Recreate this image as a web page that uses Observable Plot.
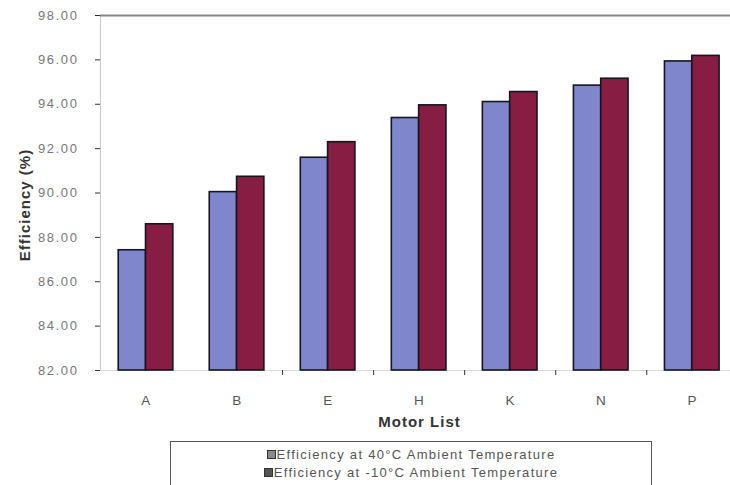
<!DOCTYPE html>
<html>
<head>
<meta charset="utf-8">
<script src="https://cdn.jsdelivr.net/npm/d3@7"></script>
<script src="https://cdn.jsdelivr.net/npm/@observablehq/plot@0.6"></script>
<style>
  body { margin: 0; background: #fff; font-family: "Liberation Sans", Arial, sans-serif; }
  #chart svg { display: block; }
  #chart g[aria-label="y-axis tick label"] { letter-spacing: 1.6px; }
  #chart g[aria-label="x-axis tick label"] { letter-spacing: 0.5px; }
  #chart .ttl { letter-spacing: 1px; }
  #legend {
    margin-left: 170px; margin-top: 9px; width: 482px; height: 60px;
    border: 1px solid #555; box-sizing: border-box; padding-top: 4px;
    color: #555; font-size: 13px; letter-spacing: 1.3px; text-align: center;
  }
  #legend .row { height: 18px; line-height: 18px; }
  #legend .sw { display: inline-block; width: 7px; height: 7px; margin-right: 1px; vertical-align: 0px; border: 1px solid #333; }
</style>
</head>
<body>
<div id="chart"></div>
<div id="legend"></div>
<script>
// Motor efficiency at two ambient temperatures
const motors = ["A", "B", "E", "H", "K", "N", "P"];
const eff40 = [87.42, 90.04, 91.59, 93.38, 94.10, 94.84, 95.93];
const effMinus10 = [88.59, 90.73, 92.29, 93.95, 94.55, 95.15, 96.18];
const seriesNames = ["Efficiency at 40°C Ambient Temperature", "Efficiency at -10°C Ambient Temperature"];
const seriesFill = ["#7f86cc", "#871d43"];
const legendSwatch = ["#8a8a8a", "#555555"];
const yTicks = [82, 84, 86, 88, 90, 92, 94, 96, 98];

// each motor index i holds two side-by-side bars: [i-0.3, i] and [i, i+0.3]
const rows = motors.flatMap((m, i) => [
  {i, series: 0, x1: i - 0.3, x2: i, value: eff40[i]},
  {i, series: 1, x1: i, x2: i + 0.3, value: effMinus10[i]}
]);
const groupEdges = [1.5, 2.5, 3.5, 4.5, 5.5];

const chart = Plot.plot({
  width: 730,
  height: 432,
  marginTop: 15,
  marginLeft: 100,
  marginRight: 0,
  marginBottom: 62,
  style: {fontFamily: "Liberation Sans, Arial, sans-serif", background: "#fff"},
  x: {domain: [-0.5, 6.42]},
  y: {domain: [82, 98]},
  marks: [
    Plot.ruleX([-0.5], {stroke: "#c8c8c8"}),
    Plot.ruleY([82], {stroke: "#dcdcdc"}),
    Plot.rect(rows, {
      x1: "x1", x2: "x2", y1: 82, y2: "value",
      fill: d => seriesFill[d.series],
      stroke: "#15151f", strokeWidth: 1.6
    }),
    Plot.ruleY([98], {stroke: "#858585", strokeWidth: 2.2}),
    Plot.axisY({
      ticks: yTicks, tickFormat: d => d.toFixed(2), tickSize: 5, tickPadding: 17,
      fontSize: 13, color: "#777", stroke: "#333", label: null
    }),
    Plot.axisX({
      ticks: d3.range(motors.length), tickFormat: i => motors[i], tickSize: 0,
      tickPadding: 25, fontSize: 13.5, color: "#555", label: null
    }),
    Plot.axisX({
      ticks: groupEdges, tickFormat: () => "", tickSize: 5, stroke: "#333", label: null
    }),
    Plot.text(["Efficiency (%)"], {
      frameAnchor: "left", textAnchor: "middle", lineAnchor: "middle",
      dx: -75, dy: 12, rotate: -90, fontSize: 15, fontWeight: "bold",
      fill: "#333", className: "ttl"
    }),
    Plot.text(["Motor List"], {
      frameAnchor: "bottom", lineAnchor: "middle", dy: 52, dx: 4, fontSize: 15, fontWeight: "bold",
      fill: "#333", className: "ttl"
    })
  ]
});
document.getElementById("chart").appendChild(chart);

const legend = document.getElementById("legend");
seriesNames.forEach((name, k) => {
  const row = document.createElement("div");
  row.className = "row";
  const sw = document.createElement("span");
  sw.className = "sw";
  sw.style.background = legendSwatch[k];
  row.appendChild(sw);
  row.appendChild(document.createTextNode(name));
  legend.appendChild(row);
});
</script>
</body>
</html>
